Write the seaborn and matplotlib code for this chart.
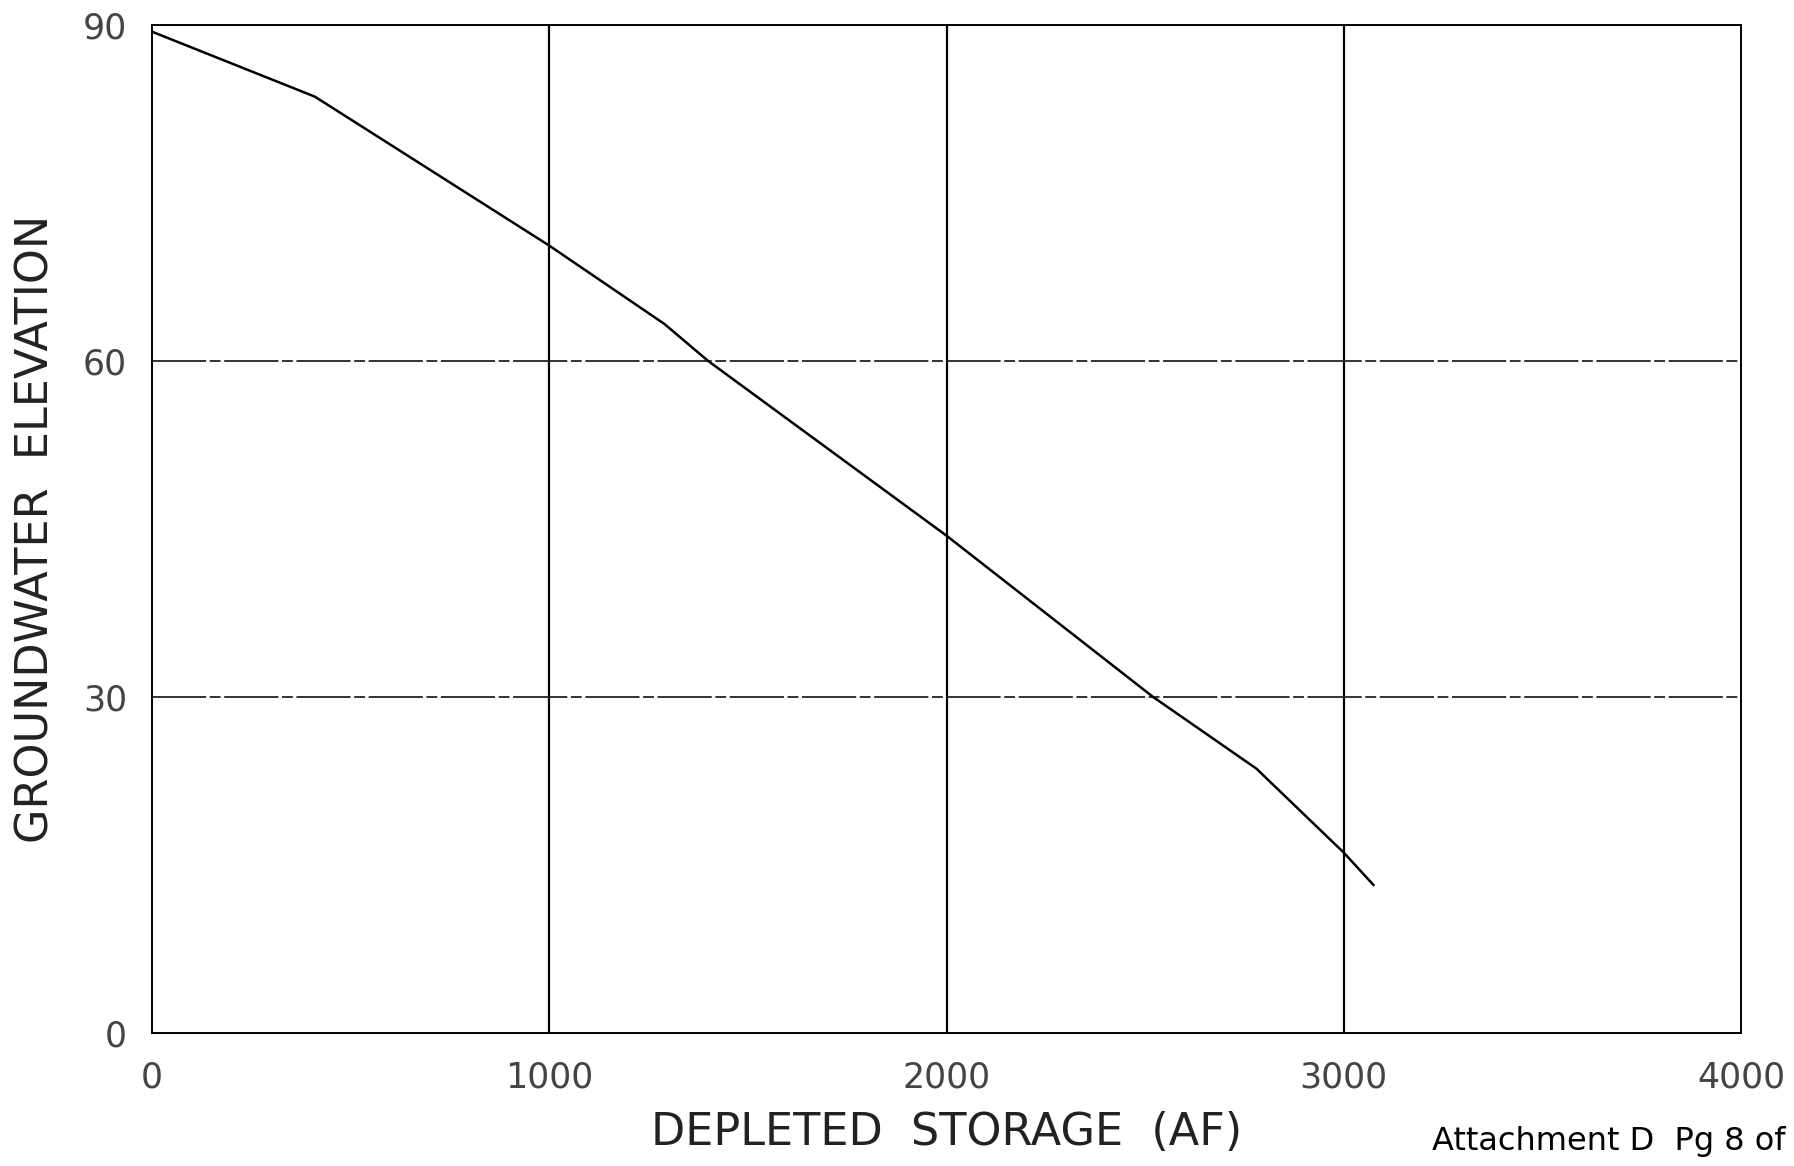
import matplotlib
matplotlib.use("Agg")
import matplotlib.pyplot as plt
import seaborn as sns
import pandas as pd

# depleted storage (AF) vs groundwater elevation
storage = [0, 410, 1000, 1290, 1400, 2000, 2520, 2780, 3000, 3075]
elevation = [89.4, 83.6, 70.3, 63.3, 60.0, 44.4, 30.0, 23.6, 16.1, 13.2]
xticks = [0, 1000, 2000, 3000, 4000]
yticks = [0, 30, 60, 90]

df = pd.DataFrame({"storage": storage, "elevation": elevation})

sns.set_style("white")
plt.rcParams['font.family'] = ['DejaVu Sans']

fig = plt.figure(figsize=(17.94, 11.66), dpi=100)
ax = fig.add_axes([0.0847, 0.1141, 0.8858, 0.8645])

# grid: solid verticals, slightly broken horizontals like the plotter output
for xv in xticks[1:-1]:
    ax.axvline(xv, color="black", lw=1.6, zorder=1)
for yv in yticks[1:-1]:
    ax.axhline(yv, color="#222222", lw=1.3, ls=(0, (30, 2, 6, 2)), zorder=1)

sns.lineplot(data=df, x="storage", y="elevation", color="black", lw=1.8,
             ax=ax, zorder=3)

ax.set_xlim(0, 4000)
ax.set_ylim(0, 90)
ax.set_xticks(xticks)
ax.set_yticks(yticks)
ax.tick_params(axis="both", labelsize=25, colors="#444444", length=12,
               width=1.3, direction="out", pad=6)
ax.tick_params(axis="x", length=0, pad=20)
for s in ax.spines.values():
    s.set_color("black")
    s.set_linewidth(1.4)

ax.set_xlabel("DEPLETED  STORAGE  (AF)", fontsize=32, color="#222222",
              labelpad=12)
ax.set_ylabel("GROUNDWATER  ELEVATION", fontsize=32, color="#222222",
              labelpad=18)

fig.text(0.995, 0.008, "Attachment D  Pg 8 of", fontsize=23, color="black",
         ha="right", va="bottom")

fig.savefig("out.png", dpi=100)
